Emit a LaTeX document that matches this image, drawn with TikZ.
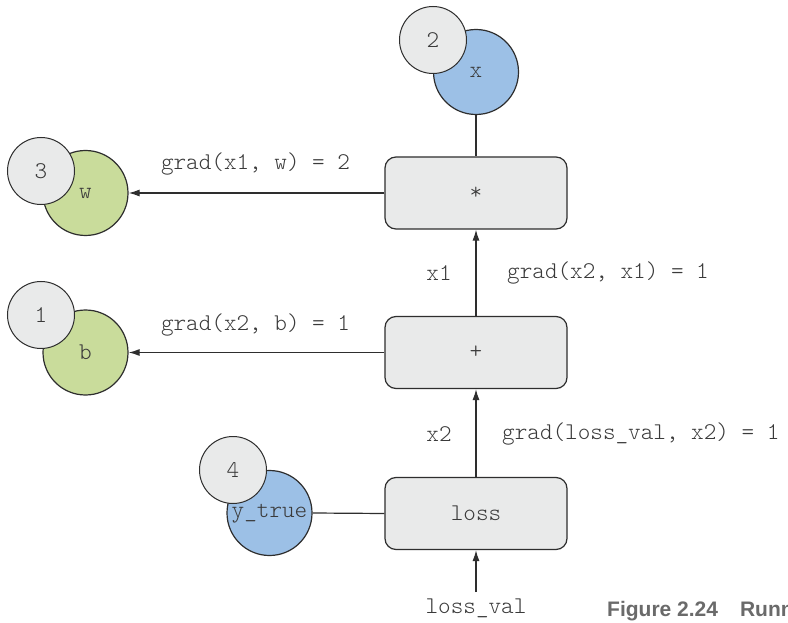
\documentclass[tikz,border=0pt]{standalone}
\usepackage{fontspec}
\newfontfamily\cour{lmmonolt10-regular.otf}
\newfontfamily\capfont{Liberation Sans}
\usetikzlibrary{arrows.meta}
\definecolor{ln}{HTML}{2E2E2E}
\definecolor{gfill}{HTML}{E9EAEA}
\definecolor{bfill}{HTML}{9CC0E6}
\definecolor{grfill}{HTML}{C9DC9B}
\definecolor{txt}{HTML}{3A3A3A}
\definecolor{capc}{HTML}{6A6A6A}
\begin{document}
\begin{tikzpicture}[x=1pt,y=-1pt,
  every node/.style={font=\cour\fontsize{24}{24}\selectfont, text=txt},
  opbox/.style={draw=ln, fill=gfill, rounded corners=11pt, minimum width=182pt, minimum height=72pt, line width=1.2pt, inner sep=0pt},
  varc/.style={circle, draw=ln, line width=1.2pt, minimum size=85pt, inner sep=0pt},
  numc/.style={circle, draw=ln, fill=gfill, line width=1pt, minimum size=67pt, inner sep=0pt},
  conn/.style={draw=ln, line width=1.2pt},
  arr/.style={conn, -{Latex[length=11pt,width=7pt]}},
  lbl/.style={inner sep=0pt}]
\useasboundingbox (0,0) rectangle (788,623);
\fill[white] (0,0) rectangle (788,623);

% operation boxes
\node[opbox] (mul) at (476,193) {*};
\node[opbox] (add) at (476,352.5) {+};
\node[opbox] (loss) at (476,513.5) {loss};

% variable circles
\node[varc, fill=bfill] (x) at (476,72) {x};
\node[numc] (n2) at (433,40) {2};
\node[varc, fill=grfill] (w) at (85.5,193) {w};
\node[numc] (n3) at (41,171) {3};
\node[varc, fill=grfill] (b) at (85.5,352.5) {b};
\node[numc] (n1) at (41,315) {1};
\node[varc, fill=bfill] (yt) at (269.5,513) {};
\node[numc] (n4) at (233,470) {4};
\node[lbl] (ytl) at (269.5,514) {y\_true};

% connectors
\draw[conn] (x) -- (mul);
\draw[arr] (mul.west) -- (w.east);
\draw[arr] (add.west) -- (b.east);
\draw[arr] (add.north) -- (mul.south);
\draw[arr] (loss.north) -- (add.south);
\draw[conn] (yt.east) -- (loss.west);
\coordinate (lvs) at (476,592);
\draw[arr] (lvs) -- (loss.south);

% labels
\node[lbl] (l1) at (255.5,164) {grad(x1, w) = 2};
\node[lbl] (l2) at (255.5,325) {grad(x2, b) = 1};
\node[lbl] (l3) at (439,273) {x1};
\node[lbl, anchor=west] (l4) at (507,273) {grad(x2, x1) = 1};
\node[lbl] (l5) at (439,434) {x2};
\node[lbl, anchor=west] (l6) at (502,434) {grad(loss\_val, x2) = 1};
\node[lbl] (lv) at (476,608) {loss\_val};

% caption (clipped at the right edge, as in the reference)
\begin{scope}
\clip (590,590) rectangle (788,623);
\node[lbl, anchor=base west, font=\capfont\bfseries\fontsize{21}{21}\selectfont, text=capc] (cap) at (607,616) {Figure 2.24\hspace{22pt}Runn};
\end{scope}
\end{tikzpicture}
\end{document}
